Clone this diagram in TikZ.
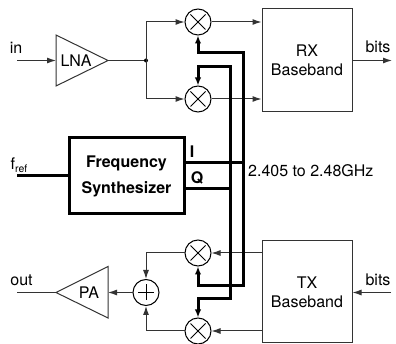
\documentclass[tikz,border=0pt]{standalone}
\usepackage{fontspec}
\setmainfont{TeX Gyre Heros}
\usetikzlibrary{arrows.meta}
\tikzset{
  thinw/.style={line width=1pt,draw=black!80},
  sig/.style={thinw,-{Latex[length=9pt,width=6pt]}},
  clk/.style={line width=3pt,draw=black},
  clkarrow/.style={line width=3pt,draw=black,-{Latex[length=8pt,width=6.5pt]},line join=miter},
  box/.style={draw=black!80,line width=1pt,fill=white,inner sep=0pt,align=center,font=\fontsize{16}{19}\selectfont},
  txt/.style={inner sep=0pt,font=\fontsize{16}{18}\selectfont},
  mix/.style={circle,draw=black,line width=1pt,fill=white,minimum size=26pt,inner sep=0pt},
}
\newcommand{\crossmark}[1]{\draw[line width=0.8pt] (#1)++(-7.5,-7.5) -- ++(15,15) (#1)++(-7.5,7.5) -- ++(15,-15);}
\begin{document}
\begin{tikzpicture}[x=1pt,y=-1pt]
\useasboundingbox (0,0) rectangle (396,344);
% mixers
\node[mix] (m1) at (198,22) {};
\node[mix] (m2) at (198,99) {};
\node[mix] (m3) at (198,253) {};
\node[mix] (m4) at (198,331) {};
\node[mix] (sum) at (146,292.5) {};
\crossmark{m1}\crossmark{m2}\crossmark{m3}\crossmark{m4}
\draw[line width=0.8pt] (138,292.5) -- (154,292.5) (146,284.5) -- (146,300.5);
% boxes
\node[box,minimum width=90pt,minimum height=103pt] (rx) at (307,60.5) {RX\\Baseband};
\node[box,minimum width=90pt,minimum height=102pt] (tx) at (307,292) {TX\\Baseband};
\node[draw=black,line width=3pt,minimum width=115pt,minimum height=76pt,inner sep=0pt,align=center,font=\fontsize{16}{26}\selectfont\bfseries] (syn) at (126.5,176) {Frequency\\Synthesizer};
% amplifiers
\coordinate (lnaT) at (56,35); \coordinate (lnaB) at (56,86); \coordinate (lnaA) at (108,60.5); \coordinate (lnaI) at (56,60.5);
\draw[thinw] (lnaT) -- (lnaA) -- (lnaB) -- cycle;
\node[txt] (lnaL) at (76,61) {LNA};
\coordinate (paT) at (108,266.5); \coordinate (paB) at (108,318); \coordinate (paA) at (56,292.5); \coordinate (paI) at (108,292.5);
\draw[thinw] (paT) -- (paA) -- (paB) -- cycle;
\node[txt] (paL) at (89,292.5) {PA};
% labels
\node[txt] (inL) at (16,48) {in};
\node[txt] (outL) at (21.5,280) {out};
\node[txt,anchor=base west] (fref) at (10.5,170) {f\raisebox{-0.35ex}{\fontsize{10.5}{10.5}\selectfont ref}};
\node[txt,font=\fontsize{16}{18}\selectfont\bfseries] (iL) at (192,151.5) {I};
\node[txt,font=\fontsize{16}{18}\selectfont\bfseries] (qL) at (197,178) {Q};
\node[txt,anchor=west] (freq) at (248,170.5) {2.405 to 2.48GHz};
\node[txt] (b1) at (378,46.5) {bits};
\node[txt] (b2) at (378,280) {bits};
% free ends
\coordinate (inS) at (17,60.5);
\coordinate (outE) at (17,292.5);
\coordinate (frefS) at (17,176);
\coordinate (b1E) at (392,60.5);
\coordinate (b2S) at (391,292.5);
\coordinate (j) at (146,60.5);
\coordinate (Iend) at (243,163);
\coordinate (Qend) at (230,189);
% thin signals
\draw[sig] (inS) -- (lnaI);
\draw[thinw] (lnaA) -- (j);
\fill (j) circle (2pt);
\draw[sig] (j) |- (m1.west);
\draw[sig] (j) |- (m2.west);
\draw[sig] (m1.east) -- (rx.west |- m1);
\draw[sig] (m2.east) -- (rx.west |- m2);
\draw[sig] (rx.east |- b1E) -- (b1E);
\draw[sig] (tx.west |- m3) -- (m3.east);
\draw[sig] (tx.west |- m4) -- (m4.east);
\draw[sig] (b2S) -- (tx.east |- b2S);
\draw[sig] (m3.west) -| (sum.north);
\draw[sig] (m4.west) -| (sum.south);
\draw[sig] (sum.west) -- (paI);
\draw[thinw] (paA) -- (outE);
% LO
\draw[clk] (frefS) -- (syn.west |- frefS);
\draw[clk] (syn.east |- Iend) -- (Iend);
\draw[clk] (syn.east |- Qend) -- (Qend);
\draw[clkarrow] (Iend) -- (243,53) -- (198,53) -- (m1.south);
\draw[clkarrow] (Qend) -- (230,67) -- (198,67) -- (m2.north);
\draw[clkarrow] (Iend) -- (243,286) -- (198,286) -- (m3.south);
\draw[clkarrow] (Qend) -- (230,299) -- (198,299) -- (m4.north);
\end{tikzpicture}
\end{document}
